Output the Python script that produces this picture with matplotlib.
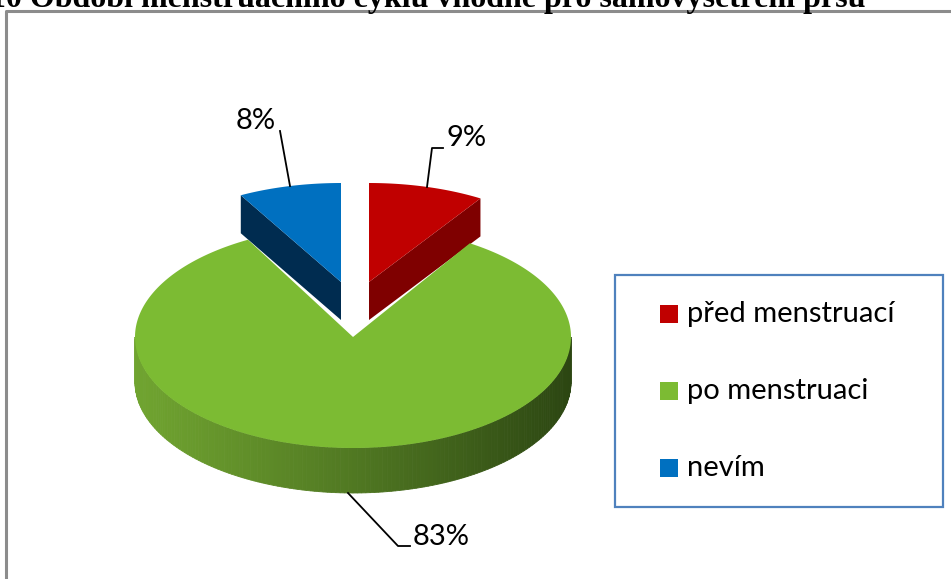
import matplotlib
matplotlib.use('Agg')
import matplotlib.pyplot as plt
from matplotlib.patches import Polygon, Rectangle
import numpy as np

# data
labels = ['před menstruací', 'po menstruaci', 'nevím']
values = [9, 83, 8]
pct_labels = ['9%', '83%', '8%']
top_colors = ['#c00000', '#7cbb33', '#0070c0']
side_colors = ['#7f0000', '#4e7a1f', '#002c50']

W, H = 951, 579
fig = plt.figure(figsize=(W / 100, H / 100), dpi=100)
ax = fig.add_axes([0, 0, 1, 1])
ax.set_xlim(0, W)
ax.set_ylim(H, 0)
ax.axis('off')

FONT = 'Lato'

# outer frame (chart area, cut off at right/bottom)
ax.plot([6, 6, W + 5], [H + 5, 10.5, 10.5], color='#8c8c8c', lw=2.2, solid_capstyle='butt')

# title, partly cut off at top
ax.text(866, 7, '10 Období menstruačního cyklu vhodné pro samovyšetření prsu',
        family='Liberation Serif', fontweight='bold', fontsize=23,
        ha='right', va='baseline', color='black')


def arc(cx, cy, a, b, t0, t1, n=200):
    t = np.radians(np.linspace(t0, t1, n))
    return np.column_stack([cx + a * np.cos(t), cy - b * np.sin(t)])


# slice angles, clockwise from 12 o'clock
fr = np.array(values) / sum(values) * 360
ends = 90 - np.cumsum(fr)
starts = ends + fr

# geometry (pixels)
cx, cy, a, b, depth = 353, 337, 218, 111, 45
ea, eb, edepth = 208, 99, 38
vertex = {0: (369, 282), 2: (341, 282)}  # exploded slices

# exploded slices (behind the green one)
for i in (0, 2):
    vx, vy = vertex[i]
    t_hi, t_lo = starts[i], ends[i]
    # visible radial face
    tf = t_lo if i == 0 else t_hi
    p = arc(vx, vy, ea, eb, tf, tf, 1)[0]
    ax.add_patch(Polygon([(vx, vy), p, (p[0], p[1] + edepth), (vx, vy + edepth)],
                         closed=True, fc=side_colors[i], ec='none'))
    top = np.vstack([[vx, vy], arc(vx, vy, ea, eb, t_lo, t_hi)])
    ax.add_patch(Polygon(top, closed=True, fc=top_colors[i], ec='none'))

# green side with gradient
c_left = np.array([112, 164, 48]) / 255
c_right = np.array([44, 70, 18]) / 255
n = 160
ts = np.linspace(180, 360, n + 1)
for k in range(n):
    p0 = arc(cx, cy, a, b, ts[k], ts[k + 1], 2)
    frac = ((p0[:, 0].mean()) - (cx - a)) / (2 * a)
    col = c_left + (c_right - c_left) * frac ** 1.1
    poly = [p0[0], p0[1], (p0[1][0], p0[1][1] + depth), (p0[0][0], p0[0][1] + depth)]
    ax.add_patch(Polygon(poly, closed=True, fc=col, ec=col, lw=0.6))

# green top
ax.add_patch(Polygon(np.vstack([[cx, cy], arc(cx, cy, a, b, starts[1], ends[1], 400)]),
                     closed=True, fc=top_colors[1], ec='none'))

# data labels with leader lines
lab_font = dict(family=FONT, fontsize=21, color='black', va='center')
ax.plot([427, 432, 443], [187, 148, 148], color='black', lw=1.3)
ax.text(447, 138, pct_labels[0], ha='left', **lab_font)
ax.plot([290, 280], [186, 131], color='black', lw=1.3)
ax.text(256, 121, pct_labels[2], ha='center', **lab_font)
ax.plot([348, 398, 410], [493, 546, 546], color='black', lw=1.3)
ax.text(413, 537, pct_labels[1], ha='left', **lab_font)

# legend
ax.add_patch(Rectangle((615, 275), 328, 232, fc='white', ec='#4f81bd', lw=1.6))
for i, lab in enumerate(labels):
    yy = 314 + i * 77
    ax.add_patch(Rectangle((660, yy - 9), 18, 18, fc=top_colors[i], ec='none'))
    ax.text(687, yy, lab, family=FONT, fontsize=21, ha='left', va='center', color='black')

fig.savefig('out.png', dpi=100)
